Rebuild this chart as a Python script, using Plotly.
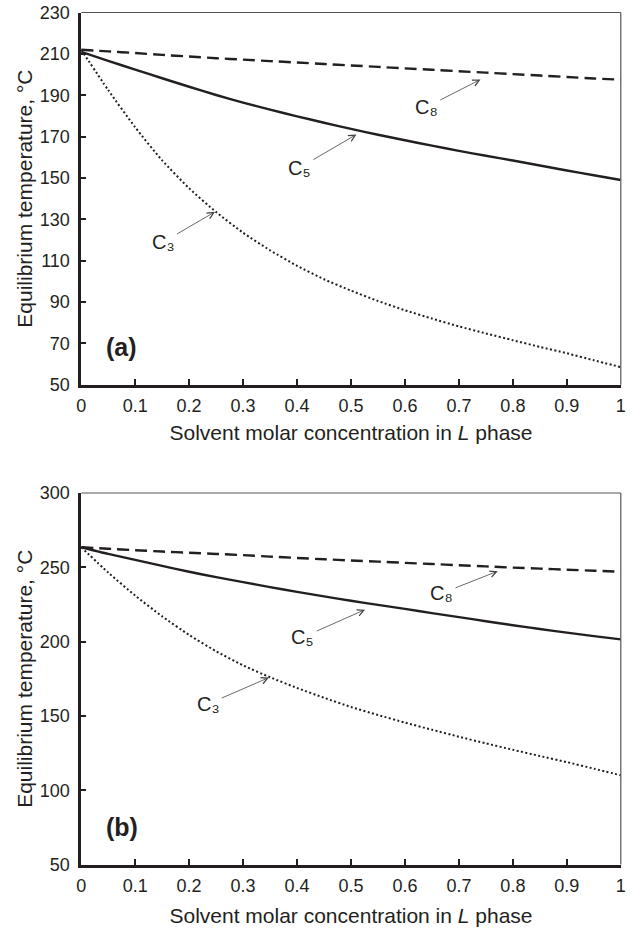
import plotly.graph_objects as go

# ---------------- data ----------------
x_vals = [0, 0.05, 0.1, 0.15, 0.2, 0.25, 0.3, 0.35, 0.4, 0.45, 0.5,
          0.55, 0.6, 0.65, 0.7, 0.75, 0.8, 0.85, 0.9, 0.95, 1.0]

# panel (a)
a_c8 = [212, 211.2, 210.4, 209.5, 208.7, 207.9, 207.2, 206.5, 205.8, 205.1, 204.4,
        203.7, 203.0, 202.3, 201.6, 200.9, 200.2, 199.5, 198.8, 198.1, 197.5]
a_c5 = [211, 206.6, 202.4, 198.2, 194.1, 190.1, 186.4, 183.0, 179.8, 176.7, 173.7,
        170.9, 168.2, 165.6, 163.1, 160.7, 158.4, 156.0, 153.6, 151.3, 149.0]
a_c3 = [212, 192.5, 174.5, 158.5, 145.0, 133.5, 123.5, 115.0, 107.5, 101.0, 95.5,
        90.5, 86.0, 82.0, 78.2, 74.8, 71.5, 68.3, 65.2, 61.8, 58.5]

# panel (b)
b_c8 = [263.5, 262.5, 261.5, 260.6, 259.8, 259.0, 258.2, 257.2, 256.3, 255.4, 254.6,
        253.8, 253.0, 252.2, 251.4, 250.6, 249.8, 249.1, 248.4, 247.7, 247.0]
b_c5 = [263.5, 259.0, 255.0, 251.0, 247.0, 243.4, 240.0, 236.7, 233.5, 230.4, 227.5,
        224.7, 222.0, 219.2, 216.5, 213.7, 211.0, 208.5, 206.0, 203.7, 201.5]
b_c3 = [263.5, 246.5, 231.0, 217.0, 204.5, 193.5, 184.0, 176.0, 168.8, 162.2, 156.0,
        150.6, 145.5, 140.7, 136.0, 131.5, 127.2, 123.0, 118.9, 114.5, 110.0]

x_ticks = [0, 0.1, 0.2, 0.3, 0.4, 0.5, 0.6, 0.7, 0.8, 0.9, 1.0]
x_ticktext = ["0", "0.1", "0.2", "0.3", "0.4", "0.5", "0.6", "0.7", "0.8", "0.9", "1"]
a_yticks = [50, 70, 90, 110, 130, 150, 170, 190, 210, 230]
b_yticks = [50, 100, 150, 200, 250, 300]

x_title = "Solvent molar concentration in <i>L</i> phase"
y_title = "Equilibrium temperature, °C"

# label annotations: (text, label_x, label_y, arrow_tip_x, arrow_tip_y)
a_labels = [
    ("C₈", 0.640, 184.3, 0.740, 197.6),
    ("C₅", 0.405, 155.0, 0.510, 171.0),
    ("C₃", 0.152, 119.0, 0.248, 133.6),
]
b_labels = [
    ("C₈", 0.668, 232.5, 0.772, 247.4),
    ("C₅", 0.411, 203.0, 0.526, 221.5),
    ("C₃", 0.235, 158.0, 0.348, 175.8),
]

# ---------------- figure ----------------
INK = "#231f20"
FONT = "Arial, Liberation Sans, DejaVu Sans, sans-serif"

fig = go.Figure()

styles = {
    "C8": dict(color=INK, width=2.4, dash="12px,6px"),
    "C5": dict(color=INK, width=2.4),
    "C3": dict(color=INK, width=2, dash="2px,2.4px"),
}

for xa, ya, series in [("x", "y", [("C8", a_c8), ("C5", a_c5), ("C3", a_c3)]),
                       ("x2", "y2", [("C8", b_c8), ("C5", b_c5), ("C3", b_c3)])]:
    for name, vals in series:
        fig.add_trace(go.Scatter(x=x_vals, y=vals, mode="lines", name=name,
                                 line=dict(shape="spline", smoothing=0.6, **styles[name]),
                                 xaxis=xa, yaxis=ya, showlegend=False,
                                 hoverinfo="skip"))

xdom = [81.2 / 635, 620.8 / 635]
ydom_a = [1 - 384.7 / 930, 1 - 12.5 / 930]
ydom_b = [1 - 864.5 / 930, 1 - 493.0 / 930]

def xaxis_cfg(anchor, standoff):
    return dict(domain=xdom, anchor=anchor, range=[0, 1], automargin=False,
                tickvals=x_ticks, ticktext=x_ticktext,
                ticks="inside", ticklen=6, tickwidth=1.5, tickcolor=INK,
                showline=True, linewidth=2.5, linecolor=INK,
                showgrid=False, zeroline=False, ticklabelstandoff=3,
                tickfont=dict(family=FONT, size=18, color=INK),
                title=dict(text=x_title, font=dict(family=FONT, size=21, color=INK),
                           standoff=standoff))

def yaxis_cfg(anchor, dom, rng, ticks):
    return dict(domain=dom, anchor=anchor, range=rng, tickvals=ticks, automargin=False,
                ticks="inside", ticklen=5, tickwidth=1.5, tickcolor=INK,
                showline=True, linewidth=2.5, linecolor=INK,
                showgrid=False, zeroline=False, ticklabelstandoff=5,
                tickfont=dict(family=FONT, size=18, color=INK),
                title=dict(text=y_title, font=dict(family=FONT, size=21, color=INK),
                           standoff=2))

fig.update_layout(
    template="none",
    width=635, height=930,
    margin=dict(l=0, r=0, t=0, b=0),
    paper_bgcolor="white", plot_bgcolor="white",
    xaxis=xaxis_cfg("y", 11),
    yaxis=yaxis_cfg("x", ydom_a, [50, 230], a_yticks),
    xaxis2=xaxis_cfg("y2", 14),
    yaxis2=yaxis_cfg("x2", ydom_b, [50, 300], b_yticks),
)

# thin top / right frame lines
for xr, yr in [("x domain", "y domain"), ("x2 domain", "y2 domain")]:
    fig.add_shape(type="line", xref=xr, yref=yr, x0=0, x1=1, y0=1, y1=1,
                  line=dict(color="#555555", width=1.2))
    fig.add_shape(type="line", xref=xr, yref=yr, x0=1, x1=1, y0=0, y1=1,
                  line=dict(color="#555555", width=1.2))

annotations = []
for xa, ya, labels in [("x", "y", a_labels), ("x2", "y2", b_labels)]:
    for text, lx, ly, hx, hy in labels:
        annotations.append(dict(x=hx, y=hy, ax=lx, ay=ly, xref=xa, yref=ya,
                                axref=xa, ayref=ya, text=text, showarrow=True,
                                arrowhead=5, arrowsize=1.6, arrowwidth=0.8,
                                arrowcolor="#444444", standoff=0, startstandoff=2,
                                borderpad=0,
                                font=dict(family=FONT, size=20, color=INK)))

annotations.append(dict(x=0.075, y=68.4, xref="x", yref="y", text="<b>(a)</b>",
                        showarrow=False, font=dict(family=FONT, size=25, color=INK)))
annotations.append(dict(x=0.075, y=75.3, xref="x2", yref="y2", text="<b>(b)</b>",
                        showarrow=False, font=dict(family=FONT, size=25, color=INK)))
fig.update_layout(annotations=annotations)

fig.write_html("out.html")
